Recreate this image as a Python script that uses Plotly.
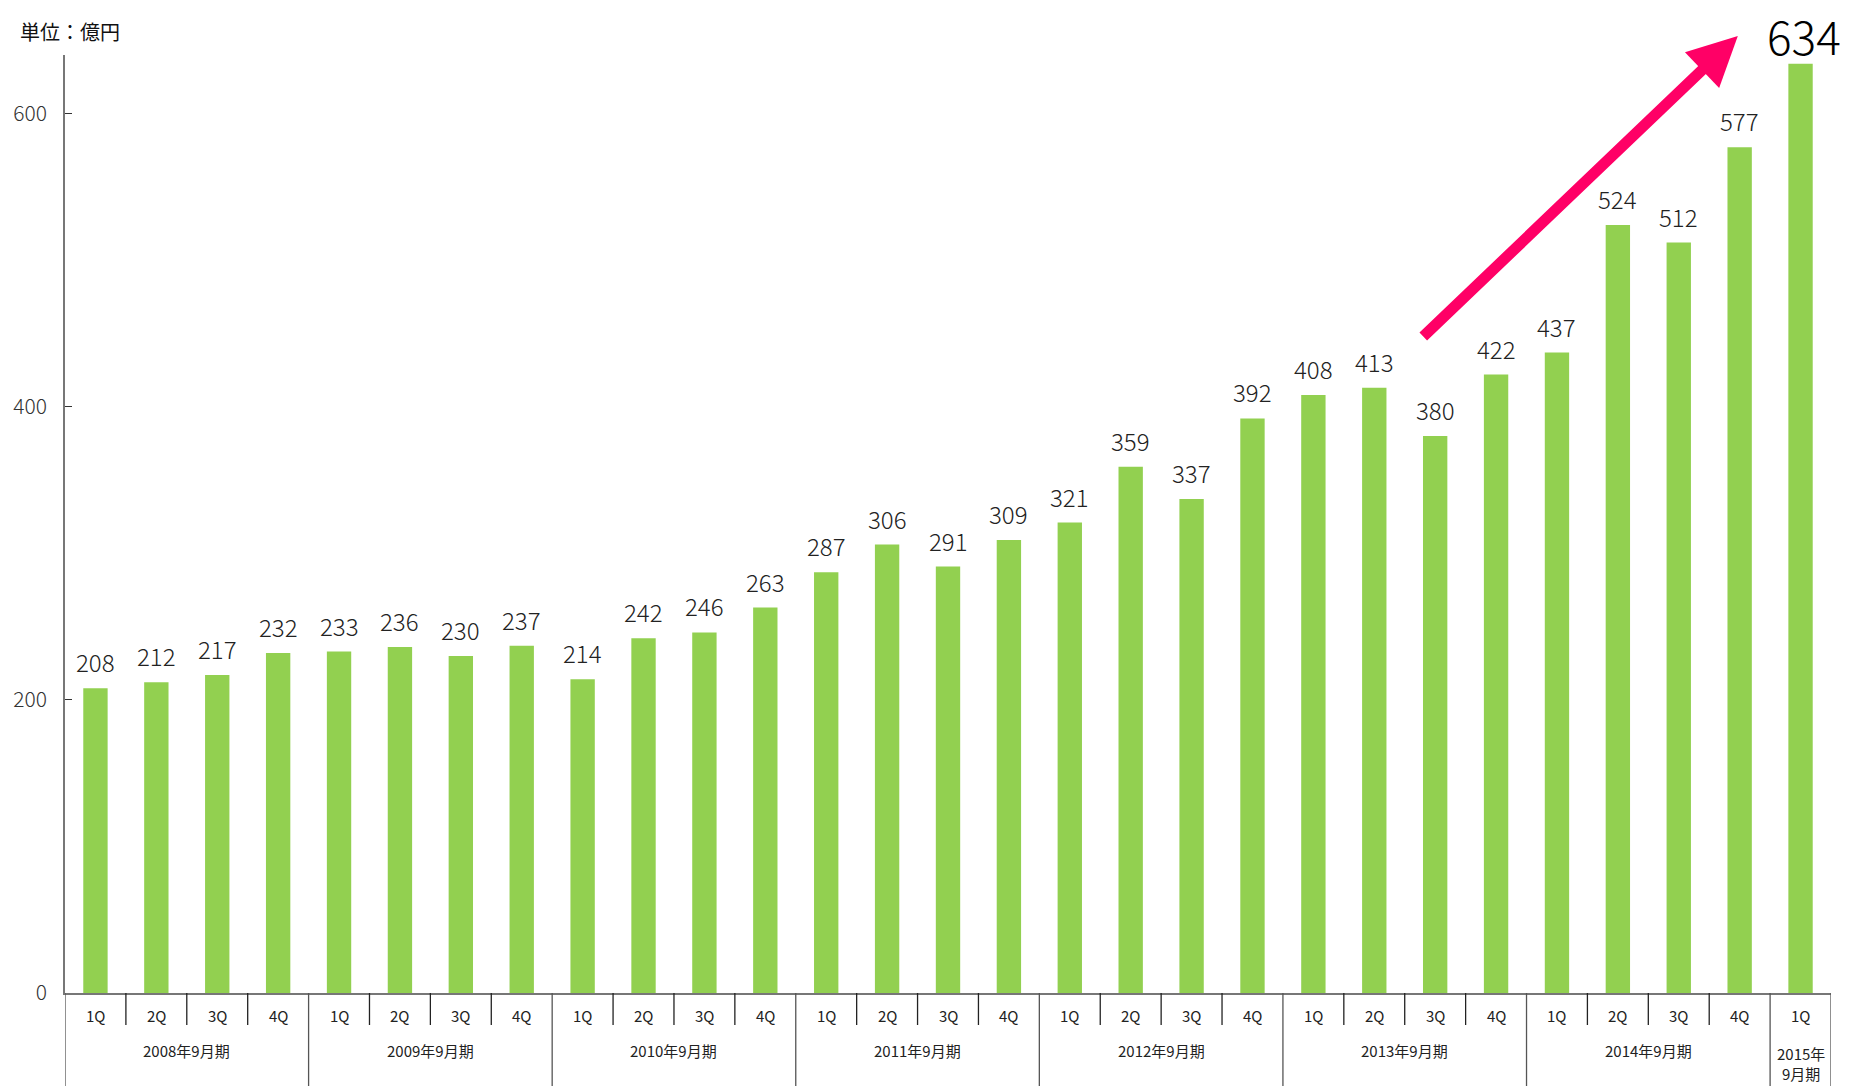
import plotly.graph_objects as go

years = ["2008年9月期", "2009年9月期", "2010年9月期", "2011年9月期",
         "2012年9月期", "2013年9月期", "2014年9月期", "2015年<br>9月期"]
quarters = ["1Q", "2Q", "3Q", "4Q"]
values_2008 = [208, 212, 217, 232]
values_2009 = [233, 236, 230, 237]
values_2010 = [214, 242, 246, 263]
values_2011 = [287, 306, 291, 309]
values_2012 = [321, 359, 337, 392]
values_2013 = [408, 413, 380, 422]
values_2014 = [437, 524, 512, 577]
values_2015 = [634]

groups = [values_2008, values_2009, values_2010, values_2011,
          values_2012, values_2013, values_2014, values_2015]

values = [v for g in groups for v in g]
qlabels = [quarters[i] for g in groups for i in range(len(g))]
xs = list(range(len(values)))

BAR = "#92D050"
FONT = "Noto Sans CJK JP"

fig = go.Figure()
fig.add_trace(go.Bar(x=xs, y=values, marker=dict(color=BAR, line=dict(width=0)),
                     width=0.4, hoverinfo="skip"))

ann = []
shapes = []
# value labels
for i, v in enumerate(values):
    last = i == len(values) - 1
    ann.append(dict(x=xs[i] + (0.05 if last else 0), y=v, xref="x", yref="y",
                    text=str(v), showarrow=False, yanchor="bottom",
                    yshift=-6 if last else 7,
                    font=dict(family=FONT, size=46 if last else 24, weight=300,
                              color="#000" if last else "#222")))

H = 938.0  # plot height in px
def py(Y):
    return (993 - Y) / H

# quarter labels & separators
for i, q in enumerate(qlabels):
    ann.append(dict(x=xs[i], y=py(1015), xref="x", yref="paper", text=q,
                    showarrow=False, yanchor="middle",
                    font=dict(family=FONT, size=15, color="#222")))
idx = 0
for g_i, g in enumerate(groups):
    start = idx
    end = idx + len(g) - 1
    shapes.append(dict(type="line", xref="x", yref="paper", x0=start - 0.5, x1=start - 0.5,
                       y0=0, y1=py(1090), line=dict(color="#555", width=1.3)))
    for k in range(start + 1, end + 1):
        shapes.append(dict(type="line", xref="x", yref="paper", x0=k - 0.5, x1=k - 0.5,
                           y0=0, y1=py(1025), line=dict(color="#222", width=1.3)))
    ann.append(dict(x=(start + end) / 2, y=py(1050) if len(g) > 1 else py(1063),
                    xref="x", yref="paper", text=years[g_i], showarrow=False,
                    yanchor="middle",
                    font=dict(family=FONT, size=15, color="#222")))
    idx = end + 1
shapes.append(dict(type="line", xref="x", yref="paper", x0=idx - 0.5, x1=idx - 0.5,
                   y0=0, y1=py(1090), line=dict(color="#555", width=1.3)))

# unit label
ann.append(dict(x=(18 - 65) / 1766.0, y=py(31), xref="paper", yref="paper",
                text="単位：億円", showarrow=False, xanchor="left", yanchor="middle",
                font=dict(family=FONT, size=20, color="#111")))

# growth arrow
ann.append(dict(x=26.97, y=653, ax=21.78, ay=447, xref="x", yref="y",
                axref="x", ayref="y", text="", showarrow=True,
                arrowhead=2, arrowsize=0.9, arrowwidth=11, arrowcolor="#FF0066"))

fig.update_layout(
    width=1854, height=1086,
    margin=dict(l=65, r=23, t=55, b=93),
    plot_bgcolor="white", paper_bgcolor="white",
    showlegend=False,
    bargap=0.6,
    annotations=ann, shapes=shapes,
    xaxis=dict(range=[-0.5, len(values) - 0.5], showticklabels=False, ticks="",
               showgrid=False, zeroline=False, showline=True, linecolor="#777",
               linewidth=2),
    yaxis=dict(range=[0, 640], tickvals=[0, 200, 400, 600], ticks="inside",
               ticklen=7, tickcolor="#333", showgrid=False, zeroline=False,
               showline=True, linecolor="#777", linewidth=1.5,
               tickfont=dict(family=FONT, size=21, weight=300, color="#333"),
               ticklabelstandoff=12),
)

fig.write_html("out.html", config={"displayModeBar": False},
               post_script="document.body.style.margin='0';document.body.style.overflow='hidden';")
